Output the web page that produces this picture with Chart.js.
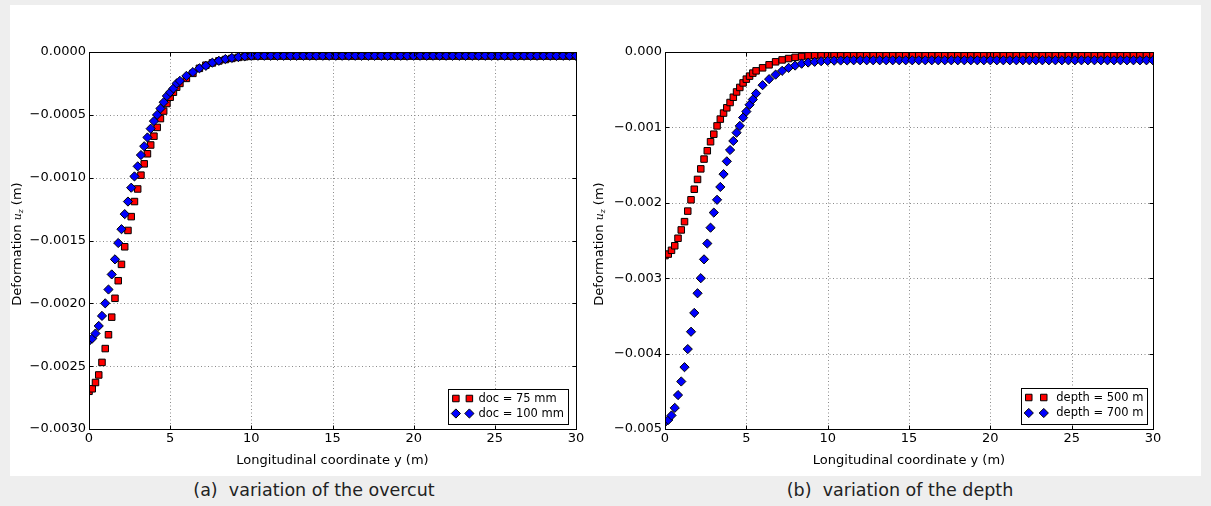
<!DOCTYPE html>
<html><head><meta charset="utf-8">
<script src="https://cdn.jsdelivr.net/npm/chart.js@4.4.1/dist/chart.umd.min.js"></script>
<style>
html,body{margin:0;padding:0;background:#eeeeee;width:1211px;height:506px;overflow:hidden;font-family:'DejaVu Sans',sans-serif}
#panel{position:absolute;left:10px;top:5px;width:1191px;height:471px;background:#fff}
.cv{position:absolute;top:0}
.cap{position:absolute;top:480px;font-size:17.5px;color:#222;white-space:nowrap;transform:translateX(-50%);font-family:'DejaVu Sans',sans-serif}
</style></head><body>
<div id="panel"></div>
<div class="cv" style="left:10px"><canvas id="c1" width="585" height="476"></canvas></div>
<div class="cv" style="left:580px"><canvas id="c2" width="620" height="476"></canvas></div>
<div class="cap" style="left:314px">(a)&nbsp; variation of the overcut</div>
<div class="cap" style="left:900px">(b)&nbsp; variation of the depth</div>
<script>
// ---- data ----
const ys = [0,0.2,0.4,0.6,0.8,1,1.2,1.4,1.6,1.8,2,2.2,2.4,2.6,2.8,3,3.2,3.4,3.6,3.8,4,4.2,4.4,4.6,4.8,5,5.2,5.4,5.6,
  6,6.4,6.8,7.2,7.6,8,8.4,8.8,9.2,9.6,10,10.4,10.8,11.2,11.6,12,12.4,12.8,13.2,13.6,14,14.4,14.8,15.2,15.6,16,16.4,16.8,17.2,17.6,18,
  18.4,18.8,19.2,19.6,20,20.4,20.8,21.2,21.6,22,22.4,22.8,23.2,23.6,24,24.4,24.8,25.2,25.6,26,26.4,26.8,27.2,27.6,28,28.4,28.8,29.2,29.6,30];

const uzDoc75 = [-0.00270,-0.00268,-0.00263,-0.00257,-0.00247,-0.00236,-0.00225,-0.00211,-0.00196,-0.00182,-0.00169,-0.00155,-0.00142,-0.00131,-0.00119,
  -0.00109,-0.00098,-0.00089,-0.00081,-0.00074,-0.00067,-0.00060,-0.00053,-0.00047,-0.00041,-0.00036,-0.00032,-0.00028,-0.00025,
  -0.00021,-0.00017,-0.00013,-0.000105,-0.000087,-0.000071,-0.00006,-0.000051,-0.000043,-0.000038,-0.000035,
  -0.000033,-0.000033,-0.000033,-0.000033,-0.000033,-0.000033,-0.000033,-0.000033,-0.000033,-0.000033,
  -0.000033,-0.000033,-0.000033,-0.000033,-0.000033,-0.000033,-0.000033,-0.000033,-0.000033,-0.000033,
  -0.000033,-0.000033,-0.000033,-0.000033,-0.000033,-0.000033,-0.000033,-0.000033,-0.000033,-0.000033,
  -0.000033,-0.000033,-0.000033,-0.000033,-0.000033,-0.000033,-0.000033,-0.000033,-0.000033,-0.000033,
  -0.000033,-0.000033,-0.000033,-0.000033,-0.000033,-0.000033,-0.000033,-0.000033,-0.000033,-0.000033];

const uzDoc100 = [-0.00230,-0.00228,-0.00224,-0.00218,-0.00210,-0.00200,-0.00189,-0.00177,-0.00165,-0.00152,-0.00141,-0.00129,-0.00119,-0.00108,-0.00099,
  -0.00091,-0.00082,-0.00075,-0.00068,-0.00061,-0.00055,-0.00050,-0.00045,-0.00040,-0.00035,-0.00032,-0.00029,-0.00025,-0.00023,
  -0.00019,-0.00016,-0.00013,-0.00011,-0.000085,-0.00007,-0.000056,-0.000047,-0.00004,-0.000034,-0.00003,
  -0.00003,-0.00003,-0.00003,-0.00003,-0.00003,-0.00003,-0.00003,-0.00003,-0.00003,-0.00003,
  -0.00003,-0.00003,-0.00003,-0.00003,-0.00003,-0.00003,-0.00003,-0.00003,-0.00003,-0.00003,
  -0.00003,-0.00003,-0.00003,-0.00003,-0.00003,-0.00003,-0.00003,-0.00003,-0.00003,-0.00003,
  -0.00003,-0.00003,-0.00003,-0.00003,-0.00003,-0.00003,-0.00003,-0.00003,-0.00003,-0.00003,
  -0.00003,-0.00003,-0.00003,-0.00003,-0.00003,-0.00003,-0.00003,-0.00003,-0.00003,-0.00003];

const uzDepth500 = [-0.00270,-0.00268,-0.00263,-0.00257,-0.00247,-0.00236,-0.00225,-0.00211,-0.00196,-0.00182,-0.00169,-0.00155,-0.00142,-0.00131,-0.00119,
  -0.00109,-0.00098,-0.00089,-0.00081,-0.00074,-0.00067,-0.00060,-0.00053,-0.00047,-0.00041,-0.00036,-0.00032,-0.00028,-0.00025,
  -0.00021,-0.00017,-0.00013,-0.000105,-0.000087,-0.000071,-0.00006,-0.000051,-0.000043,-0.000038,-0.000035,
  -0.000033,-0.000033,-0.000033,-0.000033,-0.000033,-0.000033,-0.000033,-0.000033,-0.000033,-0.000033,
  -0.000033,-0.000033,-0.000033,-0.000033,-0.000033,-0.000033,-0.000033,-0.000033,-0.000033,-0.000033,
  -0.000033,-0.000033,-0.000033,-0.000033,-0.000033,-0.000033,-0.000033,-0.000033,-0.000033,-0.000033,
  -0.000033,-0.000033,-0.000033,-0.000033,-0.000033,-0.000033,-0.000033,-0.000033,-0.000033,-0.000033,
  -0.000033,-0.000033,-0.000033,-0.000033,-0.000033,-0.000033,-0.000033,-0.000033,-0.000033,-0.000033];

const uzDepth700 = [-0.00491,-0.00488,-0.00482,-0.00472,-0.00455,-0.00437,-0.00418,-0.00394,-0.00371,-0.00346,-0.00320,-0.00300,-0.00275,-0.00254,-0.00233,
  -0.00213,-0.00196,-0.00179,-0.00162,-0.00145,-0.00130,-0.00118,-0.00107,-0.00098,-0.00087,-0.00079,-0.00070,-0.00063,-0.00055,
  -0.00044,-0.00036,-0.00030,-0.00025,-0.00021,-0.00018,-0.000155,-0.00014,-0.00013,-0.000122,-0.000118,
  -0.000115,-0.000113,-0.000112,-0.00011,-0.00011,-0.00011,-0.00011,-0.00011,-0.00011,-0.00011,
  -0.00011,-0.00011,-0.00011,-0.00011,-0.00011,-0.00011,-0.00011,-0.00011,-0.00011,-0.00011,
  -0.00011,-0.00011,-0.00011,-0.00011,-0.00011,-0.00011,-0.00011,-0.00011,-0.00011,-0.00011,
  -0.00011,-0.00011,-0.00011,-0.00011,-0.00011,-0.00011,-0.00011,-0.00011,-0.00011,-0.00011,
  -0.00011,-0.00011,-0.00011,-0.00011,-0.00011,-0.00011,-0.00011,-0.00011,-0.00011,-0.00011];

const legendLeft = ['doc = 75 mm', 'doc = 100 mm'];
const legendRight = ['depth = 500 m', 'depth = 700 m'];

const xTicks = [0,5,10,15,20,25,30];
const xTickLabels = ['0','5','10','15','20','25','30'];
const yTicksLeft = [-0.003,-0.0025,-0.002,-0.0015,-0.001,-0.0005,0];
const yTickLabelsLeft = ['\u22120.0030','\u22120.0025','\u22120.0020','\u22120.0015','\u22120.0010','\u22120.0005','0.0000'];
const yTicksRight = [-0.005,-0.004,-0.003,-0.002,-0.001,0];
const yTickLabelsRight = ['\u22120.005','\u22120.004','\u22120.003','\u22120.002','\u22120.001','0.000'];

const xTitle = 'Longitudinal coordinate y (m)';
const yTitleParts = ['Deformation ', 'u', 'z', ' (m)'];

// ---- drawing ----
const FONT = "'DejaVu Sans', sans-serif";

const framePlugin = {
  id: 'frame',
  beforeDatasetsDraw(chart) {
    const {ctx, chartArea: a, scales: {x, y}} = chart;
    const yt = chart.options.plugins.frame.yTicks;
    ctx.save();
    ctx.strokeStyle = '#8a8a8a'; ctx.lineWidth = 1; ctx.setLineDash([1, 2.5]);
    ctx.beginPath();
    xTicks.forEach(v => { const p = Math.round(x.getPixelForValue(v)) + 0.5; ctx.moveTo(p, a.top); ctx.lineTo(p, a.bottom); });
    yt.forEach(v => { const p = Math.round(y.getPixelForValue(v)) + 0.5; ctx.moveTo(a.left, p); ctx.lineTo(a.right, p); });
    ctx.stroke();
    ctx.restore();
  },
  afterDatasetsDraw(chart) {
    const {ctx, chartArea: a, scales: {x, y}} = chart;
    const yt = chart.options.plugins.frame.yTicks;
    ctx.save();
    ctx.strokeStyle = '#000'; ctx.lineWidth = 1;
    const L = Math.round(a.left) + 0.5, R = Math.round(a.right) + 0.5, T = Math.round(a.top) + 0.5, B = Math.round(a.bottom) + 0.5;
    ctx.strokeRect(L, T, R - L, B - T);
    ctx.beginPath();
    xTicks.forEach(v => { const p = Math.round(x.getPixelForValue(v)) + 0.5; ctx.moveTo(p, B); ctx.lineTo(p, B - 4); ctx.moveTo(p, T); ctx.lineTo(p, T + 4); });
    yt.forEach(v => { const p = Math.round(y.getPixelForValue(v)) + 0.5; ctx.moveTo(L, p); ctx.lineTo(L + 4, p); ctx.moveTo(R, p); ctx.lineTo(R - 4, p); });
    ctx.stroke();
    ctx.restore();
  }
};

function drawMarker(ctx, style, r, cx, cy, fill) {
  ctx.beginPath();
  if (style === 'rect') { const s = Math.SQRT1_2 * r; ctx.rect(cx - s, cy - s, 2 * s, 2 * s); }
  else { ctx.moveTo(cx, cy - r); ctx.lineTo(cx + r, cy); ctx.lineTo(cx, cy + r); ctx.lineTo(cx - r, cy); ctx.closePath(); }
  ctx.fillStyle = fill; ctx.fill();
  ctx.strokeStyle = '#000'; ctx.lineWidth = 1; ctx.stroke();
}

const legendPlugin = {
  id: 'mlegend',
  afterDraw(chart) {
    const o = chart.options.plugins.mlegend;
    const {ctx, chartArea: a} = chart;
    ctx.save();
    ctx.font = '11.5px ' + FONT;
    const ds = chart.data.datasets;
    const tw = Math.max(...ds.map(d => ctx.measureText(d.label).width));
    const w = o.textX + tw + 4, h = o.h;
    const right = Math.round(a.right) - o.dr, bottom = Math.round(a.bottom) - o.db;
    const left = right - w, top = bottom - h;
    ctx.fillStyle = '#fff'; ctx.fillRect(left, top, w, h);
    ctx.strokeStyle = '#000'; ctx.lineWidth = 1;
    ctx.strokeRect(Math.round(left) + 0.5, Math.round(top) + 0.5, Math.round(w), Math.round(h));
    ds.forEach((d, i) => {
      const cy = top + o.rows[i];
      o.mx.forEach(mx => drawMarker(ctx, d.pointStyle, d.pointRadius, left + mx, cy, d.backgroundColor));
      ctx.fillStyle = '#000'; ctx.textBaseline = 'middle'; ctx.textAlign = 'left';
      ctx.fillText(d.label, left + o.textX, cy + 0.5);
    });
    ctx.restore();
  }
};

const yLabelPlugin = {
  id: 'ylabel',
  afterDraw(chart) {
    const o = chart.options.plugins.ylabel;
    const {ctx} = chart;
    ctx.save();
    ctx.translate(o.x, o.y);
    ctx.rotate(-Math.PI / 2);
    ctx.fillStyle = '#000';
    ctx.textBaseline = 'alphabetic'; ctx.textAlign = 'left';
    const fonts = ['13px ' + FONT, 'italic 11px "DejaVu Serif", serif', 'italic 7.5px "DejaVu Serif", serif', '13px ' + FONT];
    const dy = [0, 0, 2.5, 0];
    const widths = yTitleParts.map((t, i) => { ctx.font = fonts[i]; return ctx.measureText(t).width; });
    let cx = -widths.reduce((s, v) => s + v, 0) / 2;
    yTitleParts.forEach((t, i) => { ctx.font = fonts[i]; ctx.fillText(t, cx, 4.5 + dy[i]); cx += widths[i]; });
    ctx.restore();
  }
};

function makeChart(id, c) {
  const pts = arr => ys.map((x, i) => ({x: x, y: arr[i]}));
  return new Chart(document.getElementById(id), {
    type: 'scatter',
    data: {datasets: [
      {label: c.labels[0], data: pts(c.red), pointStyle: 'rect', pointRadius: 4.6, pointHoverRadius: 4.6,
       backgroundColor: '#ff0000', borderColor: '#000', borderWidth: 1, order: 1, clip: 0},
      {label: c.labels[1], data: pts(c.blue), pointStyle: 'rectRot', pointRadius: 4.6, pointHoverRadius: 4.6,
       backgroundColor: '#0000ff', borderColor: '#000', borderWidth: 1, order: 0, clip: 0}
    ]},
    options: {
      responsive: false, animation: false, devicePixelRatio: 1, events: [],
      layout: {padding: {top: 52, right: c.padR, bottom: 0, left: 0}},
      plugins: {
        legend: {display: false}, tooltip: {enabled: false},
        frame: {yTicks: c.yTicks},
        mlegend: c.legend,
        ylabel: c.ylabel
      },
      scales: {
        x: {
          type: 'linear', min: 0, max: 30,
          afterBuildTicks: s => { s.ticks = xTicks.map(v => ({value: v})); },
          afterFit: s => { s.height = 47; },
          ticks: {callback: (v, i) => xTickLabels[i], font: {family: FONT, size: 13}, color: '#000', padding: 2, maxRotation: 0, autoSkip: false},
          grid: {display: false, drawTicks: false},
          border: {display: false},
          title: {display: true, text: xTitle, color: '#000', font: {family: FONT, size: 13, lineHeight: 1.2}, padding: {top: 0, bottom: 8}}
        },
        y: {
          type: 'linear', min: c.yTicks[0], max: 0,
          afterBuildTicks: s => { s.ticks = c.yTicks.map(v => ({value: v})); },
          afterFit: s => { s.width = c.yw; },
          ticks: {callback: (v, i) => c.yLabels[i], font: {family: FONT, size: 13}, color: '#000', padding: 3, autoSkip: false},
          grid: {display: false, drawTicks: false},
          border: {display: false}
        }
      }
    },
    plugins: [framePlugin, legendPlugin, yLabelPlugin]
  });
}

makeChart('c1', {
  red: uzDoc75, blue: uzDoc100, labels: legendLeft,
  yTicks: yTicksLeft, yLabels: yTickLabelsLeft, yw: 79, padR: 19,
  legend: {dr: 8, db: 5, h: 35, mx: [7.5, 21], textX: 30, rows: [9.5, 24.5]},
  ylabel: {x: 6, y: 244}
});
makeChart('c2', {
  red: uzDepth500, blue: uzDepth700, labels: legendRight,
  yTicks: yTicksRight, yLabels: yTickLabelsRight, yw: 85, padR: 47,
  legend: {dr: 5.5, db: 5, h: 36, mx: [7.5, 22.5], textX: 35, rows: [9.5, 25]},
  ylabel: {x: 18, y: 244}
});
</script>
</body></html>
